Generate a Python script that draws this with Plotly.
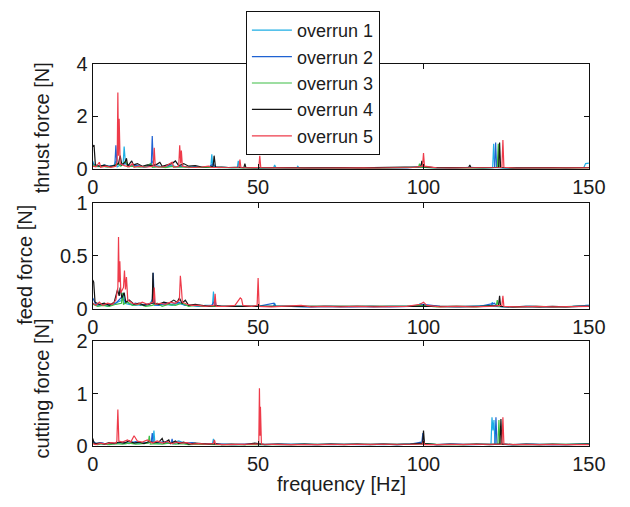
import plotly.graph_objects as go

# ---------------- data (frequency [Hz], amplitude [N]) ----------------
series_names = ["overrun 1", "overrun 2", "overrun 3", "overrun 4", "overrun 5"]
series_colors = ["#1eaee4", "#1f62d2", "#3dbe45", "#151515", "#ee3b4a"]

x_ticks = [0, 50, 100, 150]
thrust_ticks = [0, 2, 4]
feed_ticks = [0, 0.5, 1]
cut_ticks = [0, 1, 2]

thrust_1 = [(0,0.3),(0.5,0.12),(2,0.08),(3.5,0.15),(5,0.1),(6.5,0.12),(7,0.3),(7.4,0.08),(9.2,0.2),(9.5,0.85),(9.9,0.2),(11,0.15),(12.5,0.08),(14,0.12),(15.5,0.06),(17,0.1),(18.2,0.3),(18.6,0.08),(20,0.1),(22,0.06),(24,0.12),(25.5,0.08),(27,0.1),(29,0.05),(31,0.08),(33,0.05),(35.7,0.06),(36,0.55),(36.3,0.08),(38,0.05),(40,0.06),(42,0.04),(43.7,0.05),(44,0.3),(44.3,0.05),(47,0.04),(50,0.05),(54.7,0.04),(55,0.15),(55.4,0.04),(58,0.03),(61.7,0.04),(62,0.1),(62.4,0.03),(67,0.03),(72,0.04),(77,0.03),(82,0.04),(87,0.03),(92,0.04),(96,0.05),(98.7,0.06),(99,0.15),(99.3,0.06),(103,0.04),(108,0.03),(113,0.05),(117,0.03),(120.9,0.04),(121.2,0.95),(121.5,0.05),(125,0.03),(130,0.03),(135,0.04),(140,0.03),(145,0.04),(148.5,0.06),(149,0.2),(150,0.22)]
thrust_2 = [(0,0.2),(1,0.1),(2.5,0.12),(4,0.08),(5.5,0.1),(6.7,0.15),(7,0.9),(7.3,0.2),(8.5,0.15),(10,0.2),(11.5,0.1),(13,0.14),(14.5,0.08),(16,0.1),(17.7,0.12),(18,1.25),(18.3,0.15),(19.5,0.1),(21,0.08),(23,0.12),(25,0.07),(27,0.1),(29,0.06),(31,0.07),(33,0.05),(35,0.06),(36.5,0.2),(37,0.05),(39,0.05),(42,0.04),(46,0.05),(50,0.04),(55,0.04),(60,0.05),(65,0.03),(70,0.04),(75,0.03),(80,0.04),(85,0.03),(90,0.04),(95,0.04),(99.5,0.08),(104,0.04),(110,0.03),(114,0.06),(118,0.03),(121.5,0.05),(121.8,1.0),(122.1,0.05),(126,0.03),(132,0.04),(138,0.03),(144,0.04),(150,0.05)]
thrust_3 = [(0,0.15),(1.5,0.08),(3,0.1),(4.5,0.06),(6,0.09),(7.5,0.2),(8.5,0.1),(10,0.3),(10.5,0.08),(12,0.1),(14,0.06),(16,0.09),(17.5,0.2),(18,0.06),(20,0.08),(22,0.05),(24,0.09),(26,0.06),(28,0.07),(30,0.05),(33,0.06),(36,0.05),(39,0.04),(43,0.04),(48,0.03),(53,0.04),(58,0.03),(63,0.04),(68,0.03),(73,0.03),(78,0.04),(83,0.03),(88,0.03),(93,0.04),(96,0.05),(98.5,0.06),(98.8,0.2),(99.1,0.06),(103,0.04),(108,0.03),(113,0.04),(118,0.03),(122.3,0.05),(122.6,0.95),(122.9,0.05),(127,0.03),(133,0.03),(139,0.04),(145,0.03),(150,0.04)]
thrust_4 = [(0,0.85),(0.4,0.9),(0.8,0.15),(2,0.1),(3.5,0.14),(5,0.09),(6.5,0.12),(7.8,0.2),(8.3,0.5),(8.8,0.15),(9.8,0.25),(10.2,0.4),(10.6,0.1),(11.8,0.3),(12.3,0.15),(13.5,0.2),(15,0.1),(16.5,0.15),(18,0.12),(19.5,0.18),(20.3,0.25),(21,0.1),(22.5,0.15),(24,0.2),(25,0.3),(26,0.12),(27.5,0.2),(29,0.1),(31,0.12),(33,0.07),(35,0.08),(36.4,0.1),(36.7,0.5),(37.1,0.08),(39,0.07),(41,0.05),(43,0.06),(45.7,0.05),(46,0.2),(46.3,0.05),(49,0.04),(52,0.05),(56,0.04),(60,0.05),(64,0.04),(68,0.05),(72,0.04),(76,0.05),(80,0.04),(84,0.05),(88,0.04),(92,0.05),(96,0.06),(99.2,0.08),(99.5,0.3),(99.8,0.08),(103,0.05),(107,0.04),(111,0.05),(113.7,0.06),(114,0.15),(114.3,0.05),(118,0.04),(122.7,0.05),(123,1.0),(123.3,0.05),(127,0.04),(131,0.05),(135,0.04),(139,0.05),(143,0.04),(147,0.05),(150,0.05)]
thrust_5 = [(0,0.1),(1,0.08),(2,0.25),(2.4,0.06),(4,0.1),(5.5,0.06),(7,0.1),(7.4,0.3),(7.6,2.9),(7.8,0.5),(8.0,1.9),(8.3,0.2),(9.5,0.12),(11,0.08),(12,0.2),(12.5,0.06),(14,0.1),(16,0.06),(18.3,0.1),(18.6,0.8),(18.9,0.1),(20,0.06),(22,0.09),(24,0.25),(24.5,0.06),(26,0.1),(26.3,0.9),(26.6,0.2),(26.8,0.7),(27.1,0.1),(29,0.06),(31,0.05),(33,0.07),(35,0.1),(36,0.05),(38,0.05),(40,0.04),(42,0.05),(44.2,0.06),(44.5,0.35),(44.8,0.05),(47,0.04),(50.2,0.05),(50.5,0.5),(50.8,0.05),(54,0.04),(58,0.03),(62,0.04),(66,0.03),(70,0.03),(74,0.04),(78,0.03),(82,0.04),(86,0.03),(90,0.04),(94,0.03),(97,0.05),(99.7,0.1),(100,0.6),(100.3,0.1),(104,0.04),(108,0.03),(112,0.04),(116,0.03),(120,0.04),(123.7,0.05),(124,1.1),(124.3,0.06),(128,0.03),(133,0.03),(138,0.04),(143,0.03),(148,0.04),(150,0.04)]

feed_1 = [(0,0.05),(1.5,0.03),(3,0.04),(4.5,0.02),(6,0.04),(7.5,0.06),(9,0.08),(9.3,0.15),(9.6,0.05),(11,0.04),(13,0.03),(15,0.04),(17,0.03),(18.3,0.1),(18.6,0.03),(20,0.03),(22,0.04),(24,0.03),(26,0.05),(28,0.03),(30,0.03),(32,0.02),(34,0.03),(36.2,0.03),(36.5,0.16),(36.8,0.03),(39,0.02),(42,0.02),(46,0.02),(50,0.02),(54.6,0.02),(55,0.05),(55.4,0.02),(60,0.02),(65,0.015),(70,0.02),(75,0.015),(80,0.02),(85,0.015),(90,0.02),(95,0.02),(98.7,0.03),(99,0.05),(99.3,0.03),(104,0.02),(110,0.015),(115,0.02),(120.5,0.03),(120.8,0.06),(121.1,0.02),(126,0.015),(132,0.02),(138,0.015),(144,0.02),(148.5,0.02),(149,0.03),(150,0.03)]
feed_2 = [(0,0.1),(1,0.04),(2.5,0.03),(4,0.04),(5.5,0.03),(7,0.05),(8.5,0.1),(10,0.07),(11.5,0.04),(13,0.05),(14.5,0.03),(16,0.04),(18,0.05),(18.3,0.34),(18.6,0.04),(20,0.03),(22,0.05),(24,0.04),(26,0.06),(28,0.03),(30,0.03),(33,0.02),(36,0.03),(37,0.08),(37.3,0.02),(40,0.02),(45,0.02),(50,0.02),(54.8,0.05),(55.2,0.02),(60,0.02),(66,0.015),(72,0.02),(78,0.015),(84,0.02),(90,0.015),(96,0.02),(100,0.04),(105,0.02),(111,0.015),(117,0.02),(121.5,0.05),(122,0.02),(127,0.015),(133,0.02),(139,0.015),(145,0.02),(150,0.03)]
feed_3 = [(0,0.04),(1.5,0.02),(3,0.03),(5,0.02),(7,0.04),(8.7,0.05),(9,0.15),(9.3,0.04),(10.5,0.06),(12,0.03),(14,0.04),(16,0.02),(18,0.03),(19.5,0.05),(21,0.02),(23,0.04),(25,0.03),(27,0.05),(29,0.02),(31,0.03),(34,0.02),(37,0.02),(40,0.015),(45,0.02),(50,0.015),(55,0.02),(60,0.015),(66,0.02),(72,0.015),(78,0.02),(84,0.015),(90,0.02),(96,0.02),(99,0.03),(104,0.015),(110,0.02),(116,0.015),(122,0.03),(122.3,0.08),(122.6,0.02),(128,0.015),(134,0.02),(140,0.015),(146,0.02),(150,0.02)]
feed_4 = [(0,0.27),(0.3,0.25),(0.7,0.06),(2,0.04),(3.5,0.05),(5,0.03),(6.5,0.06),(7.5,0.18),(8,0.12),(8.3,0.2),(8.8,0.1),(9.5,0.15),(10,0.06),(11,0.08),(12.5,0.04),(14,0.05),(15.5,0.03),(17,0.04),(18,0.05),(18.2,0.34),(18.5,0.05),(20,0.04),(21.5,0.06),(23,0.05),(24.5,0.08),(25.5,0.06),(26.2,0.1),(27,0.05),(28,0.08),(29,0.03),(31,0.04),(33,0.03),(35,0.02),(37,0.03),(39,0.02),(42,0.02),(46,0.02),(50,0.015),(54,0.02),(58,0.015),(62,0.02),(66,0.015),(70,0.02),(74,0.015),(78,0.02),(82,0.015),(86,0.02),(90,0.015),(94,0.02),(98,0.02),(102,0.02),(106,0.015),(110,0.02),(114,0.015),(118,0.02),(122.7,0.03),(123,0.12),(123.3,0.02),(127,0.015),(131,0.02),(135,0.015),(139,0.02),(143,0.015),(147,0.02),(150,0.02)]
feed_5 = [(0,0.05),(1,0.03),(2,0.06),(3,0.03),(4.5,0.05),(6,0.04),(7,0.08),(7.6,0.2),(7.8,0.68),(8.0,0.25),(8.2,0.45),(8.5,0.15),(9.3,0.2),(9.6,0.36),(9.9,0.18),(10.2,0.3),(10.6,0.08),(12,0.05),(13.5,0.04),(15,0.06),(16.5,0.04),(18.3,0.06),(18.6,0.2),(18.9,0.04),(20.5,0.05),(22,0.04),(23.5,0.06),(25,0.05),(26.2,0.08),(26.5,0.31),(26.8,0.2),(27.1,0.06),(28.5,0.04),(30,0.03),(32,0.03),(34,0.02),(36.7,0.03),(37,0.14),(37.3,0.02),(40,0.02),(43,0.03),(44.2,0.08),(44.6,0.1),(45,0.09),(45.4,0.03),(48,0.02),(49.7,0.03),(50,0.29),(50.3,0.02),(54,0.015),(58,0.02),(61,0.03),(63,0.03),(66,0.015),(70,0.02),(75,0.015),(80,0.02),(85,0.015),(90,0.02),(95,0.02),(99,0.04),(100,0.06),(101,0.03),(105,0.015),(110,0.02),(115,0.015),(120,0.02),(123.7,0.03),(124,0.12),(124.3,0.02),(129,0.015),(134,0.02),(139,0.015),(144,0.02),(150,0.02)]

cut_1 = [(0,0.08),(1.5,0.04),(3,0.06),(4.5,0.03),(6,0.05),(8,0.07),(10,0.05),(12,0.08),(14,0.05),(16,0.07),(18.2,0.08),(18.5,0.3),(18.8,0.06),(20,0.05),(22,0.08),(24,0.06),(26,0.1),(28,0.05),(30,0.06),(32,0.04),(34,0.05),(36.2,0.05),(36.5,0.14),(36.8,0.04),(39,0.04),(43,0.03),(48,0.04),(53,0.03),(58,0.03),(63,0.04),(68,0.03),(73,0.03),(78,0.04),(83,0.03),(88,0.03),(93,0.04),(96,0.05),(98.7,0.05),(99,0.08),(99.3,0.04),(104,0.03),(110,0.03),(116,0.04),(120.4,0.04),(120.7,0.55),(121.0,0.3),(121.3,0.5),(121.6,0.04),(126,0.03),(132,0.03),(138,0.04),(144,0.03),(150,0.05)]
cut_2 = [(0,0.1),(1,0.05),(2.5,0.07),(4,0.04),(5.5,0.06),(7,0.05),(9,0.08),(11,0.05),(13,0.09),(15,0.06),(17.7,0.08),(18,0.25),(18.3,0.06),(20,0.07),(22,0.09),(23.7,0.06),(24,0.14),(24.3,0.05),(26,0.08),(28,0.06),(30,0.07),(32,0.04),(35,0.05),(38,0.04),(42,0.03),(47,0.04),(52,0.03),(57,0.04),(62,0.03),(67,0.03),(72,0.04),(77,0.03),(82,0.03),(87,0.04),(92,0.03),(96,0.04),(99.5,0.08),(99.8,0.25),(100.1,0.05),(104,0.03),(109,0.04),(114,0.03),(119,0.03),(121.6,0.04),(121.9,0.55),(122.2,0.05),(127,0.03),(133,0.04),(139,0.03),(145,0.04),(150,0.04)]
cut_3 = [(0,0.06),(1.5,0.03),(3,0.05),(5,0.03),(7,0.05),(9,0.04),(11,0.06),(13,0.04),(15,0.05),(16.8,0.06),(17.1,0.2),(17.4,0.04),(19,0.05),(21,0.04),(23,0.06),(25,0.04),(27,0.05),(29,0.03),(32,0.04),(35,0.03),(38,0.03),(42,0.03),(47,0.03),(52,0.03),(57,0.03),(62,0.03),(67,0.03),(72,0.03),(77,0.03),(82,0.03),(87,0.03),(92,0.03),(97,0.04),(100,0.05),(105,0.03),(110,0.03),(115,0.03),(120,0.03),(122.5,0.04),(122.8,0.5),(123.1,0.04),(128,0.03),(134,0.03),(140,0.03),(146,0.03),(150,0.04)]
cut_4 = [(0,0.15),(0.5,0.05),(2,0.06),(3.5,0.04),(5,0.07),(6.5,0.05),(8,0.08),(9.5,0.06),(11,0.1),(12.5,0.06),(14,0.08),(15.5,0.05),(17,0.09),(18.5,0.07),(20,0.08),(21,0.15),(21.5,0.06),(23,0.12),(23.5,0.05),(25,0.1),(26,0.05),(27.5,0.08),(29,0.04),(31,0.06),(33,0.05),(35,0.04),(37,0.05),(39,0.03),(42,0.04),(46,0.03),(49,0.06),(52,0.03),(56,0.04),(60,0.03),(64,0.04),(68,0.03),(72,0.04),(76,0.03),(80,0.04),(84,0.03),(88,0.04),(92,0.03),(96,0.04),(99.7,0.06),(100,0.3),(100.3,0.05),(104,0.03),(108,0.04),(112,0.03),(116,0.04),(120,0.03),(123.1,0.04),(123.4,0.52),(123.7,0.04),(127,0.03),(131,0.04),(135,0.03),(139,0.04),(143,0.03),(147,0.04),(150,0.04)]
cut_5 = [(0,0.05),(1,0.03),(2.5,0.06),(4,0.04),(5.5,0.07),(7,0.06),(7.3,0.1),(7.6,0.7),(7.9,0.1),(9,0.08),(10.5,0.12),(11.5,0.08),(12.5,0.2),(13.5,0.1),(15,0.08),(16.5,0.12),(18,0.06),(19.5,0.1),(21,0.06),(22.5,0.09),(24,0.05),(25.5,0.08),(27,0.06),(28.5,0.07),(30,0.04),(32,0.05),(34,0.04),(36.5,0.05),(36.8,0.12),(37.1,0.04),(40,0.03),(44,0.03),(48,0.03),(50.2,0.04),(50.4,1.1),(50.6,0.2),(50.7,0.75),(51,0.04),(54,0.03),(58,0.03),(62,0.03),(66,0.03),(70,0.03),(74,0.03),(78,0.03),(82,0.03),(86,0.03),(90,0.03),(94,0.03),(97,0.04),(99.7,0.04),(100,0.1),(100.3,0.03),(104,0.03),(108,0.03),(112,0.03),(116,0.03),(120,0.03),(123.7,0.04),(124,0.55),(124.3,0.04),(128,0.03),(133,0.03),(138,0.03),(143,0.03),(148,0.03),(150,0.03)]

thrust_series = [thrust_1, thrust_2, thrust_3, thrust_4, thrust_5]
feed_series = [feed_1, feed_2, feed_3, feed_4, feed_5]
cut_series = [cut_1, cut_2, cut_3, cut_4, cut_5]

# ---------------- figure ----------------
W, H = 630, 507
FONT = "Liberation Sans, Arial, Helvetica, sans-serif"
TXT = "#1c1c1c"

fig = go.Figure()

panels = [
    ("x", "y", thrust_series, True),
    ("x2", "y2", feed_series, False),
    ("x3", "y3", cut_series, False),
]
for xa, ya, group, show in panels:
    for name, color, pts in zip(series_names, series_colors, group):
        fig.add_trace(go.Scatter(
            x=[p[0] for p in pts], y=[p[1] for p in pts],
            mode="lines", name=name, legendgroup=name, showlegend=show,
            line=dict(color=color, width=1.2), xaxis=xa, yaxis=ya,
        ))

def px_x(px):
    return px / W

def px_y(py):
    return 1 - py / H

L, R = 90, 605
boxes = [(55, 165), (201, 311), (345, 455)]
yranges = [[0, 4], [0, 1], [0, 2]]
yticks = [thrust_ticks, feed_ticks, cut_ticks]

axis_common = dict(
    showline=True, linecolor="#111111", linewidth=1, mirror="ticks",
    ticks="inside", ticklen=5, tickcolor="#111111", showgrid=False,
    zeroline=False, tickfont=dict(family=FONT, size=20, color=TXT),
)

for i, ((top, bot), yr, yt) in enumerate(zip(boxes, yranges, yticks)):
    sfx = "" if i == 0 else str(i + 1)
    fig.layout["xaxis" + sfx] = dict(
        domain=[px_x(L), px_x(R)], range=[0, 150], tickvals=x_ticks,
        anchor="y" + sfx, **axis_common,
    )
    fig.layout["yaxis" + sfx] = dict(
        domain=[px_y(bot), px_y(top)], range=yr, tickvals=yt,
        anchor="x" + sfx, **axis_common,
    )

titles = [("thrust force [N]", 37, 122), ("feed force [N]", 19, 265), ("cutting force [N]", 37, 395)]
annos = []
for text, cx, cy in titles:
    annos.append(dict(text=text, x=px_x(cx), y=px_y(cy), xref="paper", yref="paper",
                      textangle=-90, showarrow=False, xanchor="center", yanchor="middle",
                      font=dict(family=FONT, size=20, color=TXT)))
annos.append(dict(text="frequency [Hz]", x=px_x(348), y=px_y(494), xref="paper", yref="paper",
                  showarrow=False, xanchor="center", yanchor="middle",
                  font=dict(family=FONT, size=20, color=TXT)))

fig.update_layout(
    width=W, height=H, margin=dict(l=0, r=0, t=0, b=0),
    paper_bgcolor="white", plot_bgcolor="white",
    annotations=annos,
    legend=dict(
        x=px_x(249), y=px_y(0), xanchor="left", yanchor="top",
        bgcolor="white", bordercolor="#111111", borderwidth=1,
        font=dict(family=FONT, size=18, color=TXT), itemwidth=40,
        tracegroupgap=0, entrywidth=165, entrywidthmode="pixels",
    ),
)

fig.write_html("out.html")
